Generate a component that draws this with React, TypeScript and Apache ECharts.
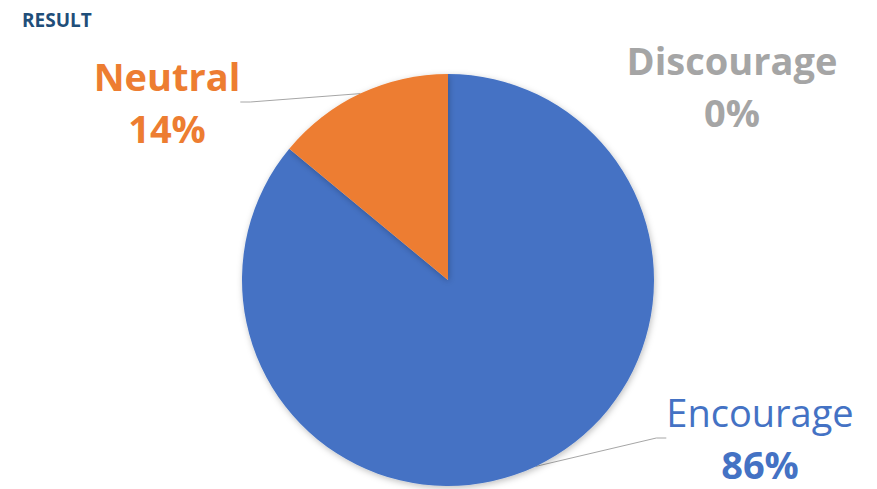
import React, { useEffect, useRef } from "react";
import * as echarts from "echarts";

const categories = ["Encourage", "Neutral", "Discourage"];
const values = [86, 14, 0];
const colors = ["#4472C4", "#ED7D31", "#A5A5A5"];
const labelSpots = [
  { x: 760, y: 438 },
  { x: 167, y: 102 },
  { x: 732, y: 86 },
];
const nameWeights = ["normal", "bold", "bold"];

const FONT = "'Open Sans', 'Noto Sans', sans-serif";

export default function App() {
  const ref = useRef<HTMLDivElement>(null);
  useEffect(() => {
    if (!ref.current) return;
    const chart = echarts.init(ref.current, null, { renderer: "svg" });
    const data = categories.map((name, i) => ({
      name,
      value: values[i],
      itemStyle: { color: colors[i] },
      label: {
        color: colors[i],
        rich: {
          n: { fontSize: 38, fontWeight: nameWeights[i] as any, color: colors[i], fontFamily: FONT, lineHeight: 52 },
          p: { fontSize: 38, fontWeight: "bold", color: colors[i], fontFamily: FONT, lineHeight: 52 },
        },
      },
      labelLine: { show: values[i] > 0 },
    }));
    chart.setOption({
      animation: false,
      title: {
        text: "RESULT",
        left: 17,
        top: 5,
        textStyle: { color: "#1F4E79", fontSize: 19, fontWeight: "bold", fontFamily: FONT },
      },
      series: [
        {
          type: "pie",
          center: [448, 280],
          radius: 206,
          startAngle: 90,
          clockwise: true,
          avoidLabelOverlap: false,
          itemStyle: {
            shadowBlur: 6,
            shadowColor: "rgba(0,0,0,0.25)",
            shadowOffsetX: 1,
            shadowOffsetY: 2,
          },
          label: {
            show: true,
            position: "outside",
            formatter: "{n|{b}}\n{p|{d}%}",
            align: "center",
          },
          labelLine: {
            show: true,
            length: 10,
            length2: 10,
            lineStyle: { color: "#A6A6A6", width: 1 },
          },
          labelLayout: (params: any) => {
            const s = labelSpots[params.dataIndex];
            return { x: s.x, y: s.y, align: "center", verticalAlign: "middle" };
          },
          data,
        },
      ],
    });
    return () => chart.dispose();
  }, []);
  return (
    <div
      ref={ref}
      style={{ position: "fixed", left: 0, top: 0, width: 877, height: 489, background: "#fff" }}
    />
  );
}
